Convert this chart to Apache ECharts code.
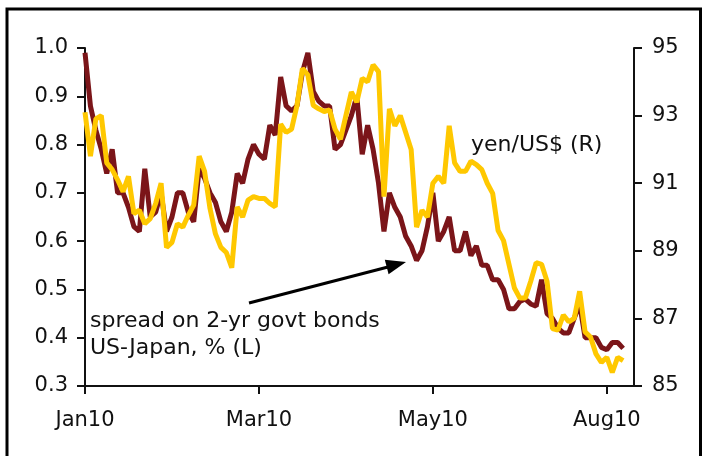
<!DOCTYPE html>
<html>
<head>
<meta charset="utf-8">
<title>US-Japan 2-yr spread vs yen/US$</title>
<script src="https://cdn.jsdelivr.net/npm/echarts@6/dist/echarts.min.js"></script>
<style>
  html, body { margin: 0; padding: 0; background: #fff; }
  #chart { width: 704px; height: 456px; }
</style>
</head>
<body>
<div id="chart"></div>
<script>
// Observations per tick-label step on the x axis
const STEP = 32;
// Number of slots on the category axis (data ends a little before the right edge)
const SLOTS = 102;

const tickLabels = ['Jan10', 'Mar10', 'May10', 'Aug10'];

// Spread on 2-yr government bonds, US minus Japan, % (left axis)
const spread = [
  0.99, 0.88, 0.83, 0.79, 0.74, 0.79, 0.70, 0.70, 0.67, 0.63,
  0.62, 0.75, 0.65, 0.66, 0.70, 0.62, 0.65, 0.70, 0.70, 0.66,
  0.64, 0.75, 0.73, 0.70, 0.68, 0.64, 0.62, 0.66, 0.74, 0.72,
  0.77, 0.80, 0.78, 0.77, 0.84, 0.82, 0.94, 0.88, 0.87, 0.88,
  0.95, 0.99, 0.91, 0.89, 0.88, 0.88, 0.79, 0.80, 0.83, 0.86,
  0.90, 0.78, 0.84, 0.79, 0.72, 0.62, 0.70, 0.67, 0.65, 0.61,
  0.59, 0.56, 0.58, 0.63, 0.70, 0.60, 0.62, 0.65, 0.58, 0.58,
  0.62, 0.57, 0.59, 0.55, 0.55, 0.52, 0.52, 0.50, 0.46, 0.46,
  0.475, 0.48, 0.47, 0.465, 0.52, 0.45, 0.44, 0.42, 0.41, 0.41,
  0.44, 0.47, 0.40, 0.40, 0.40, 0.38, 0.375, 0.39, 0.39, 0.378
];

// Yen per US dollar (right axis)
const yen = [
  93.1, 91.8, 92.9, 93.0, 91.6, 91.4, 91.1, 90.75, 91.2, 90.1,
  90.2, 89.8, 89.95, 90.4, 91.0, 89.1, 89.25, 89.8, 89.7, 90.05,
  90.35, 91.8, 91.35, 90.25, 89.5, 89.1, 88.95, 88.5, 90.3, 90.0,
  90.5, 90.6, 90.55, 90.55, 90.4, 90.3, 92.75, 92.5, 92.6, 93.3,
  94.4, 94.2, 93.3, 93.2, 93.12, 93.17, 92.6, 92.3, 93.0, 93.7,
  93.4, 94.1, 94.0, 94.5, 94.3, 90.6, 93.2, 92.7, 93.0, 92.5,
  92.0, 89.7, 90.2, 90.0, 91.0, 91.2, 91.0, 92.7, 91.6, 91.35,
  91.35, 91.65, 91.55, 91.4, 91.0, 90.7, 89.6, 89.3, 88.6, 87.9,
  87.6, 87.6, 88.1, 88.65, 88.6, 88.1, 86.7, 86.65, 87.1, 86.9,
  87.0, 87.8, 86.6, 86.45, 85.95, 85.7, 85.85, 85.4, 85.85, 85.75
];

const categories = Array.from({ length: SLOTS }, (_, i) =>
  i % STEP === 0 ? tickLabels[i / STEP] : '');

const FONT = '"DejaVu Sans", Verdana, sans-serif';
const INK = '#111';
const SIZE = 21;      // axis labels
const NOTE_SIZE = 22; // series captions
const onStep = (i) => i % STEP === 0;

const axisCommon = {
  axisLine: { show: true, lineStyle: { color: INK, width: 2 } },
  axisTick: { show: true, inside: false, length: 8, lineStyle: { color: INK, width: 2 } },
  splitLine: { show: false }
};

const chart = echarts.init(document.getElementById('chart'), null, { renderer: 'canvas' });

chart.setOption({
  animation: false,
  backgroundColor: '#fff',
  grid: { left: 85, right: 70, top: 48, bottom: 70, containLabel: false },
  xAxis: {
    type: 'category',
    data: categories,
    boundaryGap: false,
    axisLine: axisCommon.axisLine,
    axisTick: { show: true, inside: false, length: 8, interval: onStep,
                lineStyle: { color: INK, width: 2 } },
    axisLabel: { interval: onStep, margin: 24, fontSize: SIZE, fontFamily: FONT, color: INK },
    splitLine: { show: false }
  },
  yAxis: [
    Object.assign({
      type: 'value', position: 'left',
      min: 0.3, max: 1.0, interval: 0.1,
      axisLabel: { margin: 17, fontSize: SIZE, fontFamily: FONT, color: INK,
                   formatter: (v) => v.toFixed(1) }
    }, axisCommon),
    Object.assign({
      type: 'value', position: 'right',
      min: 85, max: 95, interval: 2,
      axisLabel: { margin: 18, fontSize: SIZE, fontFamily: FONT, color: INK }
    }, axisCommon)
  ],
  series: [
    {
      name: 'spread on 2-yr govt bonds US-Japan, % (L)',
      type: 'line', yAxisIndex: 0, data: spread,
      showSymbol: false, smooth: false,
      lineStyle: { color: '#7b1519', width: 5 }
    },
    {
      name: 'yen/US$ (R)',
      type: 'line', yAxisIndex: 1, data: yen,
      showSymbol: false, smooth: false,
      lineStyle: { color: '#ffc800', width: 5 }
    }
  ],
  graphic: [
    // outer frame
    { type: 'rect', shape: { x: 7, y: 9, width: 693.5, height: 470 },
      style: { fill: 'none', stroke: '#000', lineWidth: 3 }, silent: true },
    // arrow pointing at the spread line
    { type: 'line', shape: { x1: 249, y1: 303, x2: 388, y2: 267 },
      style: { stroke: '#000', lineWidth: 3 }, silent: true },
    { type: 'polygon', shape: { points: [[406, 262], [388.6, 274.2], [384.8, 259.8]] },
      style: { fill: '#000' }, silent: true },
    // series captions
    { type: 'text', x: 90, y: 321,
      style: { text: 'spread on 2-yr govt bonds', font: NOTE_SIZE + 'px ' + FONT, fill: INK,
               align: 'left', verticalAlign: 'middle' }, silent: true },
    { type: 'text', x: 90, y: 348,
      style: { text: 'US-Japan, % (L)', font: NOTE_SIZE + 'px ' + FONT, fill: INK,
               align: 'left', verticalAlign: 'middle' }, silent: true },
    { type: 'text', x: 471, y: 145,
      style: { text: 'yen/US$ (R)', font: NOTE_SIZE + 'px ' + FONT, fill: INK,
               align: 'left', verticalAlign: 'middle' }, silent: true }
  ]
});
</script>
</body>
</html>
